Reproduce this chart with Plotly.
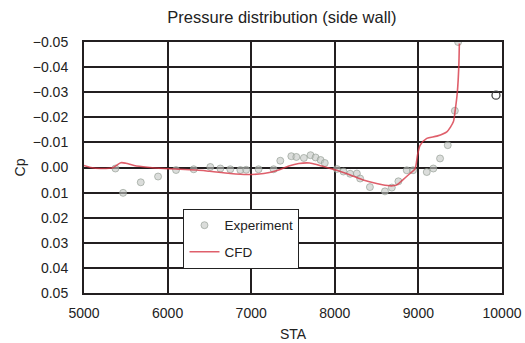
import plotly.graph_objects as go

# CFD pressure coefficient along the side wall
cfd_sta = [5000, 5080, 5200, 5350, 5440, 5500, 5600, 5760, 5950, 6150, 6350, 6500,
           6750, 6950, 7150, 7320, 7450, 7570, 7700, 7800, 7945, 8025, 8185, 8340,
           8500, 8660, 8740, 8810, 8900, 8960, 8990, 9020, 9100, 9220, 9340, 9418,
           9440, 9466, 9483, 9490]
cfd_cp = [-0.0008, 0.0, 0.0004, 0.0, -0.0019, -0.0017, -0.0008, -0.0001, 0.0004, 0.0007,
          0.001, 0.0015, 0.0024, 0.0028, 0.0024, 0.0011, -0.0006, -0.0016, -0.0018, -0.001,
          0.0004, 0.0011, 0.003, 0.005, 0.0064, 0.0073, 0.007, 0.005, 0.0024, 0.0005,
          -0.005, -0.0088, -0.0116, -0.0125, -0.0142, -0.0182, -0.0228, -0.0301, -0.0401,
          -0.0494]

# Measured pressure taps
exp_sta = [5376, 5468, 5679, 5886, 6101, 6312, 6511, 6631, 6750, 6870, 6940, 7088,
           7268, 7348, 7480, 7540, 7630, 7710, 7770, 7830, 7880, 8025, 8104, 8184,
           8264, 8303, 8420, 8600, 8682, 8761, 8861, 8936, 9100, 9179, 9259, 9351,
           9436, 9475]
exp_cp = [0.0004, 0.0101, 0.0059, 0.0036, 0.001, 0.0007, -0.0002, 0.0004, 0.0007, 0.001,
          0.0009, 0.0007, 0.0007, -0.0027, -0.0045, -0.0042, -0.0038, -0.0049, -0.004,
          -0.003, -0.0018, 0.0006, 0.0016, 0.0025, 0.0024, 0.0044, 0.0078, 0.0095, 0.008,
          0.0055, 0.0011, 0.0011, 0.0018, 0.0004, -0.0036, -0.0089, -0.0226, -0.05]

# Single outlying reading
extra_sta = [9928]
extra_cp = [-0.0288]

x_ticks = [5000, 6000, 7000, 8000, 9000, 10000]
x_tick_text = ["5000", "6000", "7000", "8000", "9000", "10000"]
y_ticks = [-0.05, -0.04, -0.03, -0.02, -0.01, 0.0, 0.01, 0.02, 0.03, 0.04, 0.05]
y_tick_text = ["\u22120.05", "\u22120.04", "\u22120.03", "\u22120.02", "\u22120.01",
               "0.00", "0.01", "0.02", "0.03", "0.04", "0.05"]

FONT = "Liberation Sans"
GRID = "#231f20"

fig = go.Figure()

fig.add_trace(go.Scatter(
    x=exp_sta, y=exp_cp, mode="markers", name="Experiment", legendgroup="exp",
    marker=dict(size=7, symbol="circle", color="rgba(195,198,195,0.6)",
                line=dict(color="rgba(140,150,140,0.6)", width=1)),
))
fig.add_trace(go.Scatter(
    x=cfd_sta, y=cfd_cp, mode="lines", name="CFD", legendgroup="cfd",
    line=dict(color="rgba(215,55,70,0.8)", width=1.6, shape="spline", smoothing=0.7),
))
fig.add_trace(go.Scatter(
    x=extra_sta, y=extra_cp, mode="markers", showlegend=False,
    marker=dict(size=8, symbol="circle-open", color="#444", line=dict(width=1.3)),
))

fig.update_layout(
    width=525, height=343,
    margin=dict(l=83.5, r=23, t=42, b=50),
    paper_bgcolor="white", plot_bgcolor="white",
    font=dict(family=FONT, size=14, color="#222"),
    title=dict(text="Pressure distribution (side wall)", x=0.537, xanchor="center",
               y=0.95, yanchor="middle", font=dict(family=FONT, size=16.5, color="#222")),
    showlegend=True,
    legend=dict(x=0.238, y=0.335, xanchor="left", yanchor="top",
                bgcolor="white", bordercolor="#222", borderwidth=1,
                font=dict(family=FONT, size=13.5, color="#222"),
                itemwidth=30, tracegroupgap=6),
)

fig.update_xaxes(
    range=[5000, 10000], tickvals=x_ticks, ticktext=x_tick_text, ticks="",
    ticklabelstandoff=6, automargin=False, showgrid=True,
    gridcolor=GRID, gridwidth=2, showline=True, linecolor=GRID, linewidth=2,
    mirror=True, zeroline=False, title=dict(text="STA", standoff=9, font=dict(size=14)),
    tickfont=dict(size=14),
)
fig.update_yaxes(
    range=[0.05, -0.05], tickvals=y_ticks, ticktext=y_tick_text, ticks="",
    ticklabelstandoff=11, automargin=False,
    showgrid=True, gridcolor=GRID, gridwidth=2, showline=True, linecolor=GRID,
    linewidth=2, mirror=True, zeroline=False,
    title=dict(text="Cp", standoff=4, font=dict(size=14)), tickfont=dict(size=14),
)

fig.write_html("out.html")
